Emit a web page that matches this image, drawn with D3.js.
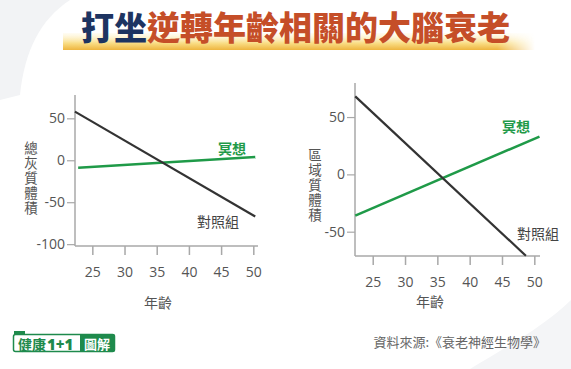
<!DOCTYPE html>
<html><head><meta charset="utf-8">
<script src="https://cdn.jsdelivr.net/npm/d3@7"></script>
<style>
html,body{margin:0;padding:0;background:#fff;}
svg{display:block;}
text{font-family:"Open Sans","Noto Sans CJK TC",sans-serif;}
.cjk{font-family:"Noto Sans CJK TC","Noto Sans",sans-serif;}
</style></head>
<body>
<script>
// ---- data ----
const titleDark = "打坐";
const titleRed = "逆轉年齡相關的大腦衰老";
const xTicks = [25, 30, 35, 40, 45, 50];
const leftYTicks = [50, 0, -50, -100];
const rightYTicks = [50, 0, -50];
const leftControl = [[22.3, 58], [50.3, -67]];
const leftMeditation = [[22.8, -9], [50.3, 4]];
const rightControl = [[22.3, 68], [48.7, -71]];
const rightMeditation = [[22.3, -36], [50.8, 33]];
const leftYLabel = "總灰質體積";
const rightYLabel = "區域質體積";
const xLabel = "年齡";
const meditationName = "冥想";
const controlName = "對照組";
const sourceText = "資料來源:《衰老神經生物學》";

const W = 571, H = 369;
const svg = d3.select("body").append("svg").attr("width", W).attr("height", H);
const defs = svg.append("defs");

// background blobs
svg.append("path").attr("d", "M0,0 L70,0 C40,20 25,50 20,95 L0,100 Z").attr("fill", "#f2f3f5");
svg.append("path").attr("d", "M571,300 C540,330 500,350 470,369 L571,369 Z").attr("fill", "#f4f5f7");

// title underline bar
const g1 = defs.append("linearGradient").attr("id", "barg").attr("x1", 0).attr("y1", 0).attr("x2", 0).attr("y2", 1);
g1.append("stop").attr("offset", "0%").attr("stop-color", "#fff6d6").attr("stop-opacity", 0.3);
g1.append("stop").attr("offset", "60%").attr("stop-color", "#f9dd85");
g1.append("stop").attr("offset", "100%").attr("stop-color", "#eeb53e");
const g2 = defs.append("linearGradient").attr("id", "fadeR").attr("x1", 0).attr("y1", 0).attr("x2", 1).attr("y2", 0);
g2.append("stop").attr("offset", "0%").attr("stop-color", "#fff").attr("stop-opacity", 1);
g2.append("stop").attr("offset", "92%").attr("stop-color", "#fff").attr("stop-opacity", 1);
g2.append("stop").attr("offset", "100%").attr("stop-color", "#fff").attr("stop-opacity", 0);
defs.append("mask").attr("id", "fm").append("rect").attr("x", 63).attr("y", 30).attr("width", 472).attr("height", 22).attr("fill", "url(#fadeR)");
svg.append("rect").attr("x", 63).attr("y", 33).attr("width", 472).attr("height", 17).attr("fill", "url(#barg)").attr("mask", "url(#fm)");

const title = svg.append("text").attr("class", "cjk").attr("x", 81).attr("y", 40)
  .attr("font-size", 33).attr("font-weight", 900);
title.append("tspan").attr("fill", "#1d3461").text(titleDark);
title.append("tspan").attr("fill", "#c54e28").text(titleRed);

function panel(cfg) {
  const x = d3.scaleLinear().domain(cfg.xDom).range([cfg.x0, cfg.x1]);
  const y = d3.scaleLinear().domain(cfg.yDom).range([cfg.yBottom, cfg.yTop]);
  const g = svg.append("g");
  // axes lines
  g.append("line").attr("x1", cfg.x0).attr("x2", cfg.x0).attr("y1", cfg.yTop).attr("y2", cfg.yBottom)
    .attr("stroke", "#a8a8a8").attr("stroke-width", 1.5);
  g.append("line").attr("x1", cfg.x0).attr("x2", cfg.x1).attr("y1", cfg.yBottom).attr("y2", cfg.yBottom)
    .attr("stroke", "#a8a8a8").attr("stroke-width", 1.5);
  // x ticks
  const xa = g.append("g").attr("transform", `translate(0,${cfg.yBottom})`)
    .call(d3.axisBottom(x).tickValues(xTicks).tickSize(9).tickPadding(12).tickFormat(d => String(d)));
  xa.select(".domain").remove();
  xa.selectAll(".tick line").attr("stroke", "#a8a8a8").attr("stroke-width", 1.5);
  xa.selectAll(".tick text").attr("fill", "#555").attr("font-size", 14).attr("font-family", "Open Sans");
  const ya = g.append("g").attr("transform", `translate(${cfg.x0},0)`)
    .call(d3.axisLeft(y).tickValues(cfg.yTicks).tickSize(8).tickPadding(2).tickFormat(d => String(d)));
  ya.select(".domain").remove();
  ya.selectAll(".tick line").attr("stroke", "#a8a8a8").attr("stroke-width", 1.2);
  ya.selectAll(".tick text").attr("fill", "#555").attr("font-size", 14).attr("font-family", "Open Sans");
  const line = d3.line().x(d => x(d[0])).y(d => y(d[1]));
  g.append("path").attr("d", line(cfg.meditation)).attr("fill", "none").attr("stroke", "#1f9a48").attr("stroke-width", 2.5);
  g.append("path").attr("d", line(cfg.control)).attr("fill", "none").attr("stroke", "#333").attr("stroke-width", 2.2);
  // labels
  g.append("text").attr("class", "cjk").attr("x", cfg.medLabel[0]).attr("y", cfg.medLabel[1])
    .attr("font-size", 14).attr("font-weight", 700).attr("fill", "#1f9a48").attr("dominant-baseline", "central").text(meditationName);
  g.append("text").attr("class", "cjk").attr("x", cfg.ctlLabel[0]).attr("y", cfg.ctlLabel[1])
    .attr("font-size", 14).attr("fill", "#444").attr("dominant-baseline", "central").text(controlName);
  // y label vertical (single text, vertical writing mode)
  g.append("text").attr("class", "cjk")
    .attr("x", cfg.yLabelX).attr("y", cfg.yLabelY)
    .attr("writing-mode", "tb").attr("letter-spacing", 1.5)
    .attr("font-size", 13.5).attr("fill", "#555").text(cfg.yLabel);
  g.append("text").attr("class", "cjk").attr("x", cfg.xLabelPos[0]).attr("y", cfg.xLabelPos[1])
    .attr("text-anchor", "middle").attr("dominant-baseline", "central")
    .attr("font-size", 14).attr("fill", "#555").text(xLabel);
}

panel({
  x0: 75, x1: 258, xDom: [22.31, 50.73],
  yTop: 95, yBottom: 246, yDom: [-102.2, 77.8],
  yTicks: leftYTicks, control: leftControl, meditation: leftMeditation,
  medLabel: [218, 148], ctlLabel: [197, 221],
  yLabel: leftYLabel, yLabelX: 31, yLabelY: 141, xLabelPos: [158, 302]
});
panel({
  x0: 355, x1: 540, xDom: [22.26, 50.88],
  yTop: 83, yBottom: 256, yDom: [-71.2, 79.7],
  yTicks: rightYTicks, control: rightControl, meditation: rightMeditation,
  medLabel: [502, 126], ctlLabel: [517, 233],
  yLabel: rightYLabel, yLabelX: 315, yLabelY: 148, xLabelPos: [430, 301]
});

// logo
const lg = svg.append("g");
lg.append("rect").attr("x", 13.5).attr("y", 334.5).attr("width", 101).attr("height", 17).attr("rx", 2)
  .attr("fill", "#fff").attr("stroke", "#1e8a4c").attr("stroke-width", 1.5);
lg.append("rect").attr("x", 14).attr("y", 331).attr("width", 11).attr("height", 3).attr("fill", "#1e8a4c");
lg.append("rect").attr("x", 80).attr("y", 334.5).attr("width", 34.5).attr("height", 17).attr("fill", "#1e8a4c");
lg.append("text").attr("class", "cjk").attr("x", 18).attr("y", 343.5).attr("dominant-baseline", "central")
  .attr("font-size", 14).attr("font-weight", 700).attr("fill", "#1e8a4c").text("健康");
lg.append("text").attr("x", 47).attr("y", 343.5).attr("dominant-baseline", "central")
  .attr("font-size", 15).attr("font-weight", 800).attr("fill", "#1e8a4c").attr("font-family", "Roboto").text("1+1");
lg.append("text").attr("class", "cjk").attr("x", 84).attr("y", 343.5).attr("dominant-baseline", "central")
  .attr("font-size", 13).attr("font-weight", 700).attr("fill", "#fff").text("圖解");

svg.append("text").attr("class", "cjk").attr("x", 546).attr("y", 341).attr("text-anchor", "end")
  .attr("dominant-baseline", "central").attr("font-size", 13).attr("fill", "#666").text(sourceText);
</script>
</body></html>
